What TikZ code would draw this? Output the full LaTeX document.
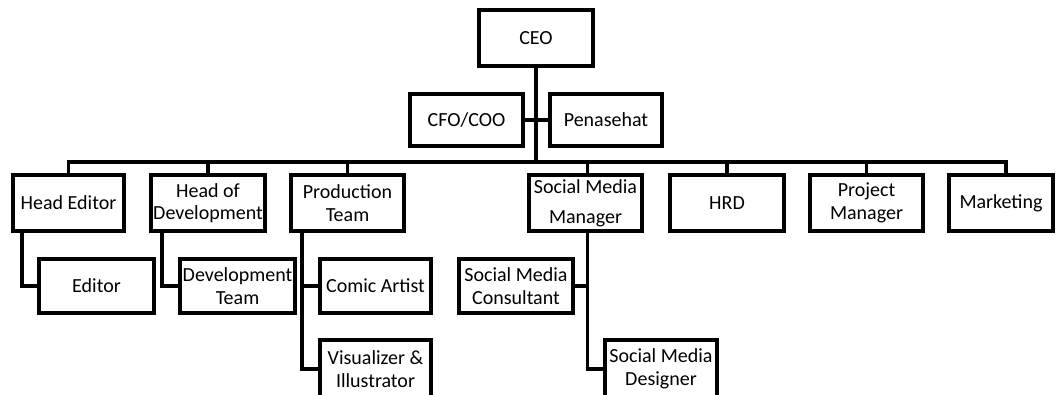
\documentclass[tikz,border=0pt]{standalone}
\usepackage{fontspec}
\setmainfont{Carlito}
\begin{document}
\begin{tikzpicture}[x=0.75pt,y=-0.75pt,
  box/.style={draw, line width=3pt, align=center, inner sep=0pt, outer sep=0pt,
    font=\fontsize{15pt}{17pt}\selectfont, minimum height=#1},
  box/.default=42pt,
  conn/.style={line width=2.6pt}]
\useasboundingbox[fill=white] (0,0) rectangle (1057,394);
% top
\node[box=42pt, minimum width=85.5pt] (ceo) at (536,38) {CEO};
\node[box=39pt, minimum width=84.75pt] (cfo) at (466.5,120) {CFO/COO};
\node[box=39pt, minimum width=84pt] (pen) at (606,120) {Penasehat};
% row 2
\node[box, minimum width=83.25pt] (he) at (68.5,203) {Head Editor};
\node[box, minimum width=85.5pt] (hod) at (208,203) {Head of\\Development};
\node[box, minimum width=84.75pt] (prod) at (347.5,203) {Production\\Team};
\node[box, minimum width=84.75pt] (smm) at (585.5,203) {Social Media\\[5.5pt]Manager};
\node[box, minimum width=85.5pt] (hrd) at (727,203) {HRD};
\node[box, minimum width=84.75pt] (pm) at (866.5,203) {Project\\Manager};
\node[box, minimum width=78pt] (mkt) at (1001,203) {Marketing};
% row 3
\node[box=40.5pt, minimum width=86.25pt] (ed) at (96.5,286) {Editor};
\node[box=40.5pt, minimum width=86.25pt] (devt) at (237.5,286) {Development\\Team};
\node[box=40.5pt, minimum width=83.25pt] (comic) at (375.5,286) {Comic Artist};
\node[box=40.5pt, minimum width=85.5pt] (smc) at (516,286) {Social Media\\Consultant};
% row 4
\node[box=43.5pt, minimum width=83.25pt] (vis) at (375.5,369) {Visualizer \&\\Illustrator};
\node[box=43.5pt, minimum width=84pt] (smd) at (661,369) {Social Media\\Designer};
% connectors
\coordinate (bar) at (536,162);
\draw[conn, line width=3pt] (ceo.south) -- (bar);
\draw[conn] (cfo.east) -- (pen.west);
\draw[conn] (he.north) |- (bar);
\draw[conn] (hod.north) |- (bar);
\draw[conn] (prod.north) |- (bar);
\draw[conn] ([xshift=1.5pt]smm.north) |- (bar);
\draw[conn] (hrd.north) |- (bar);
\draw[conn] (pm.north) |- (bar);
\draw[conn] ([xshift=3.75pt]mkt.north) |- (bar);
% children
\coordinate (het) at ([xshift=6.75pt]he.south west);
\draw[conn] (het) |- (ed.west);
\coordinate (hodt) at ([xshift=8.25pt]hod.south west);
\draw[conn] (hodt) |- (devt.west);
\coordinate (prodt) at ([xshift=8.25pt]prod.south west);
\draw[conn] (prodt) |- (vis.west);
\draw[conn] (prodt |- comic.west) -- (comic.west);
\coordinate (smmt) at ([xshift=1.5pt]smm.south);
\draw[conn] (smmt) |- (smd.west);
\draw[conn] (smc.east) -- (smc.east -| smmt);
\end{tikzpicture}
\end{document}
